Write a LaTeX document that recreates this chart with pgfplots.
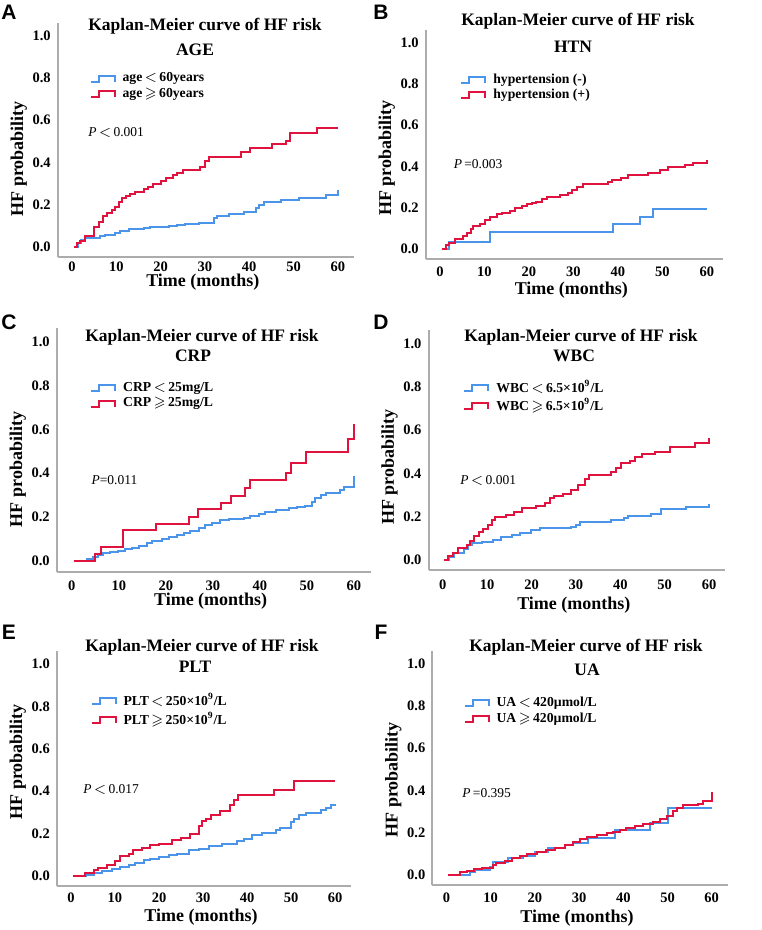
\documentclass[border=0pt]{standalone}
\usepackage{fontspec}
\usepackage{amssymb}
\usepackage{pgfplots}
\pgfplotsset{compat=1.18}
\setmainfont{Liberation Serif}
\newfontfamily\letterfont{Liberation Sans}
\definecolor{kmblue}{RGB}{74,148,234}
\definecolor{kmred}{RGB}{224,18,62}
\definecolor{axgray}{RGB}{172,172,172}

\pgfplotsset{
 kmaxis/.style n args={4}{
  scale only axis,
  xmin=-3.2, xmax=63.6, ymin=-0.048, ymax=1.06,
  axis x line*=bottom, axis y line*=left,
  axis line style={-, draw=axgray, line width=1pt},
  xtick={0,10,20,30,40,50,60}, ytick={0,0.2,0.4,0.6,0.8,1.0},
  major tick length=0pt,
  yticklabel style={/pgf/number format/.cd, fixed, fixed zerofill, precision=1},
  /pgf/number format/assume math mode=true,
  tick label style={font=\fontsize{7.25}{8}\selectfont\bfseries},
  xticklabel style={anchor=center, yshift=#1},
  xlabel={Time (months)}, ylabel={HF probability},
  label style={font=\fontsize{9}{10}\selectfont\bfseries},
  xlabel style={at={(axis description cs:0.49,0)}, anchor=center, yshift=#2},
  ylabel style={at={(axis description cs:0,#3)}, anchor=center, rotate=0, yshift=19.5pt},
  legend cell align=left,
  legend style={draw=none, fill=none, anchor=west, inner sep=0pt, row sep=-0.5pt,
    at={#4},
    font=\fontsize{6.85}{8}\selectfont\bfseries, nodes={inner sep=1pt},
    /tikz/every odd column/.append style={column sep=2.5pt}},
  legend image code/.code={\draw[##1] (0pt,-1.5pt) -- (4pt,-1.5pt) -- (4pt,1.5pt) -- (12pt,1.5pt) -- (12pt,-1.5pt);},
  clip=false,
 },
 bl/.style={color=kmblue, line width=1pt, const plot},
 rd/.style={color=kmred, line width=1pt, const plot},
}
\tikzset{ptext/.style={anchor=west, inner sep=0pt, font=\fontsize{6.75}{8}\selectfont}}
\newcommand\ttl{\fontsize{8.75}{10}\selectfont\bfseries}

\begin{document}
\begin{tikzpicture}
\useasboundingbox (0,0) rectangle (380.5pt,-465pt);

% ---------------- A ----------------
\begin{axis}[kmaxis={-4.75pt}{-12.75pt}{0.42}{(axis description cs:0.106,0.729)},
  at={(28.9pt,-128.55pt)}, anchor=south west, width=148pt, height=117pt]
\addplot[bl] coordinates {(0.4,0) (1.3,0.018) (2.1,0.033) (3.0,0.041) (6.4,0.052) (7.4,0.057) (9.8,0.068) (10.9,0.077) (12.8,0.083) (16.2,0.088) (17.5,0.093) (21.8,0.1) (23.8,0.104) (25.6,0.109) (28.7,0.115) (32.1,0.136) (32.8,0.147) (35.4,0.156) (38.8,0.167) (41.5,0.183) (42.2,0.199) (43.4,0.215) (47.1,0.223) (51.2,0.234) (57.3,0.246) (60,0.268)};
\addlegendentry{age\,$<$\,60years}
\addplot[rd] coordinates {(0.4,0) (1.1,0.018) (1.9,0.03) (3.0,0.052) (5.0,0.093) (6.0,0.12) (6.9,0.147) (8.0,0.163) (9.0,0.175) (9.8,0.191) (10.6,0.215) (11.3,0.23) (12.2,0.242) (13.2,0.251) (14.3,0.262) (16.2,0.273) (17.2,0.286) (18.3,0.299) (20.1,0.314) (21.3,0.325) (22.8,0.34) (23.8,0.352) (25.1,0.365) (29.0,0.378) (30.0,0.408) (30.9,0.428) (38.1,0.452) (40.2,0.468) (45.2,0.488) (48.2,0.502) (49.2,0.539) (55.3,0.562) (60,0.562)};
\addlegendentry{age\,$\geqslant$\,60years}
\node[ptext] at (axis cs:3.6,0.54) {\textit{P}\,$<$\,0.001};
\end{axis}

% ---------------- B ----------------
\begin{axis}[kmaxis={-6.4pt}{-15.5pt}{0.44}{(axis description cs:0.115,0.748)},
  at={(212.9pt,-129.45pt)}, anchor=south west, width=148.5pt, height=114.5pt]
\addplot[bl] coordinates {(0.4,0) (2.1,0.035) (11.2,0.084) (38.9,0.121) (44.9,0.156) (47.8,0.192) (60,0.192)};
\addlegendentry{hypertension (-)}
\addplot[rd] coordinates {(0.4,0) (1.4,0.019) (2.1,0.027) (3.4,0.047) (5.2,0.063) (6.1,0.079) (6.9,0.095) (7.5,0.111) (9.0,0.121) (10.1,0.14) (11.2,0.156) (12.7,0.169) (13.9,0.175) (15.7,0.185) (16.9,0.196) (18.4,0.208) (19.5,0.217) (20.6,0.224) (21.6,0.228) (22.9,0.24) (24,0.25) (27,0.261) (28.8,0.272) (29.6,0.285) (30.7,0.298) (32.1,0.314) (37.8,0.325) (38.6,0.333) (40.6,0.341) (42.3,0.357) (46.8,0.369) (49.4,0.382) (51.3,0.395) (55.1,0.406) (56.9,0.417) (60,0.432)};
\addlegendentry{hypertension (+)}
\node[ptext] at (axis cs:3.0,0.41) {\textit{P}\,=0.003};
\end{axis}

% ---------------- C ----------------
\begin{axis}[kmaxis={-7.2pt}{-15pt}{0.42}{(axis description cs:0.105,0.722)},
  at={(28.4pt,-285.75pt)}, anchor=south west, width=157pt, height=121.5pt]
\addplot[bl] coordinates {(0.4,0) (3.2,0.011) (4.6,0.02) (5.6,0.027) (6.7,0.035) (8.1,0.041) (9.9,0.047) (11.3,0.053) (12.7,0.061) (14.2,0.068) (16,0.084) (17,0.093) (19.2,0.099) (20.6,0.108) (22.4,0.119) (23.8,0.129) (25.2,0.138) (27,0.149) (28.4,0.164) (29.9,0.172) (31.6,0.185) (33.4,0.19) (36.6,0.197) (38,0.205) (39.8,0.215) (41,0.225) (43.5,0.232) (46.1,0.24) (48,0.245) (49.5,0.252) (51,0.268) (51.8,0.285) (53,0.3) (54,0.312) (57,0.322) (58,0.336) (60,0.388)};
\addlegendentry{CRP\,$<$\,25mg/L}
\addplot[rd] coordinates {(0.4,0) (5.0,0.032) (6.1,0.063) (10.9,0.142) (18.0,0.169) (25.0,0.2) (26.9,0.236) (31.8,0.263) (33.9,0.294) (36.9,0.332) (37.8,0.367) (45.6,0.403) (46.7,0.446) (49.8,0.495) (58.8,0.556) (60,0.626)};
\addlegendentry{CRP\,$\geqslant$\,25mg/L}
\node[ptext] at (axis cs:4.1,0.37) {\textit{P}=0.011};
\end{axis}

% ---------------- D ----------------
\begin{axis}[kmaxis={-7.3pt}{-17.3pt}{0.43}{(axis description cs:0.116,0.7225)},
  at={(214.25pt,-285.2pt)}, anchor=south west, width=148.3pt, height=120pt]
\addplot[bl] coordinates {(0.4,0) (1.5,0.013) (2.6,0.031) (4.9,0.049) (5.8,0.069) (6.7,0.077) (8.8,0.084) (11.4,0.092) (13.2,0.105) (15.5,0.115) (17.3,0.123) (19.9,0.138) (21.8,0.146) (28.8,0.154) (30.1,0.161) (31.0,0.177) (37.9,0.184) (40.9,0.192) (41.8,0.203) (46.9,0.212) (49.2,0.234) (54.8,0.243) (60,0.258)};
\addlegendentry{WBC\,$<$\,6.5×10\textsuperscript{9}/L}
\addplot[rd] coordinates {(0.4,0) (1.3,0.018) (2.4,0.034) (3.4,0.054) (5.4,0.069) (6.2,0.089) (7.1,0.111) (8.2,0.13) (9.1,0.141) (10.1,0.161) (11.0,0.184) (11.8,0.197) (14.2,0.207) (16.1,0.223) (17.9,0.238) (21.1,0.249) (23.1,0.264) (24.2,0.284) (25.1,0.295) (27.1,0.307) (29.0,0.323) (30.4,0.346) (32.1,0.372) (33.0,0.392) (37.9,0.407) (39.0,0.427) (40.2,0.446) (42.2,0.458) (43.3,0.476) (44.8,0.488) (47.8,0.499) (51.2,0.522) (56.8,0.541) (60,0.565)};
\addlegendentry{WBC\,$\geqslant$\,6.5×10\textsuperscript{9}/L}
\node[ptext] at (axis cs:3.9,0.369) {\textit{P}\,$<$\,0.001};
\end{axis}

% ---------------- E ----------------
\begin{axis}[kmaxis={-6pt}{-15.25pt}{0.53}{(axis description cs:0.113,0.748)},
  at={(28.45pt,-443.1pt)}, anchor=south west, width=147pt, height=117.5pt]
\addplot[bl] coordinates {(0.4,0) (3.3,0.006) (5.2,0.016) (7.1,0.022) (9.3,0.031) (11.2,0.042) (13.1,0.05) (14.6,0.063) (16.5,0.074) (18.0,0.082) (19.9,0.09) (22.2,0.097) (24.1,0.105) (26.7,0.121) (29.0,0.129) (31.3,0.142) (34.3,0.153) (37.7,0.164) (39.3,0.176) (41.2,0.192) (43.4,0.204) (46.5,0.215) (47.6,0.226) (49.9,0.255) (50.6,0.27) (51.8,0.289) (53.3,0.299) (56.7,0.31) (57.9,0.321) (59.0,0.333) (60,0.341)};
\addlegendentry{PLT\,$<$\,250×10\textsuperscript{9}/L}
\addplot[rd] coordinates {(0.4,0) (3.1,0.016) (5.2,0.027) (6.1,0.038) (8.2,0.05) (10.1,0.069) (11.2,0.094) (13.1,0.105) (14.2,0.121) (16.1,0.132) (18.0,0.145) (20.1,0.153) (23.0,0.168) (25.1,0.179) (27.1,0.2) (29.0,0.236) (29.8,0.258) (30.7,0.27) (31.9,0.289) (33.9,0.305) (36.2,0.333) (37.0,0.357) (38.0,0.381) (46.1,0.404) (50.6,0.447) (60,0.447)};
\addlegendentry{PLT\,$\geqslant$\,250×10\textsuperscript{9}/L}
\node[ptext] at (axis cs:2.7,0.406) {\textit{P}\,$<$\,0.017};
\end{axis}

% ---------------- F ----------------
\begin{axis}[kmaxis={-6.5pt}{-16.5pt}{0.45}{(axis description cs:0.104,0.744)},
  at={(216.2pt,-442.55pt)}, anchor=south west, width=147.6pt, height=117pt]
\addplot[bl] coordinates {(0.4,0) (5.3,0.016) (6.4,0.024) (9.8,0.039) (10.6,0.06) (14.0,0.079) (17.4,0.092) (20.0,0.111) (23.0,0.13) (26.8,0.142) (28.7,0.15) (32.1,0.174) (38.1,0.213) (46.0,0.245) (50.2,0.316) (60,0.316)};
\addlegendentry{UA\,$<$\,420µmol/L}
\addplot[rd] coordinates {(0.4,0) (3.05,0.013) (4.6,0.019) (6.1,0.028) (8.0,0.035) (10.6,0.047) (11.3,0.055) (13.2,0.066) (14.7,0.082) (16.6,0.092) (18.1,0.098) (20.4,0.107) (22.6,0.118) (24.5,0.13) (26.8,0.142) (28.7,0.158) (30.2,0.171) (31.7,0.182) (34.0,0.19) (36.2,0.197) (37.7,0.205) (39.2,0.213) (40.7,0.224) (42.6,0.234) (44.5,0.24) (46.7,0.25) (48.2,0.265) (49.8,0.281) (51.3,0.303) (52.2,0.319) (53.5,0.329) (56.9,0.335) (58.1,0.348) (60,0.395)};
\addlegendentry{UA\,$\geqslant$\,420µmol/L}
\node[ptext] at (axis cs:3.5,0.389) {\textit{P}\,=0.395};
\end{axis}

% titles
\node[font=\ttl] at (102.5pt,-13pt) {Kaplan-Meier curve of HF risk};
\node[font=\ttl] at (97.5pt,-25pt) {AGE};
\node[font=\ttl] at (289pt,-10.5pt) {Kaplan-Meier curve of HF risk};
\node[font=\ttl] at (286.5pt,-23.3pt) {HTN};
\node[font=\ttl] at (101pt,-168.5pt) {Kaplan-Meier curve of HF risk};
\node[font=\ttl] at (96.5pt,-177.9pt) {CRP};
\node[font=\ttl] at (290.5pt,-168.5pt) {Kaplan-Meier curve of HF risk};
\node[font=\ttl] at (287pt,-178pt) {WBC};
\node[font=\ttl] at (101pt,-323.5pt) {Kaplan-Meier curve of HF risk};
\node[font=\ttl] at (97.5pt,-333.3pt) {PLT};
\node[font=\ttl] at (293pt,-323.5pt) {Kaplan-Meier curve of HF risk};
\node[font=\ttl] at (293.5pt,-335pt) {UA};
% panel letters
\node[font=\fontsize{10.5}{12}\selectfont\letterfont\bfseries] at (4.5pt,-6.25pt) {A};
\node[font=\fontsize{10.5}{12}\selectfont\letterfont\bfseries] at (190.5pt,-6.25pt) {B};
\node[font=\fontsize{10.5}{12}\selectfont\letterfont\bfseries] at (4.5pt,-161.25pt) {C};
\node[font=\fontsize{10.5}{12}\selectfont\letterfont\bfseries] at (190.5pt,-161.25pt) {D};
\node[font=\fontsize{10.5}{12}\selectfont\letterfont\bfseries] at (4.5pt,-316.25pt) {E};
\node[font=\fontsize{10.5}{12}\selectfont\letterfont\bfseries] at (190.5pt,-316.25pt) {F};
\end{tikzpicture}
\end{document}
